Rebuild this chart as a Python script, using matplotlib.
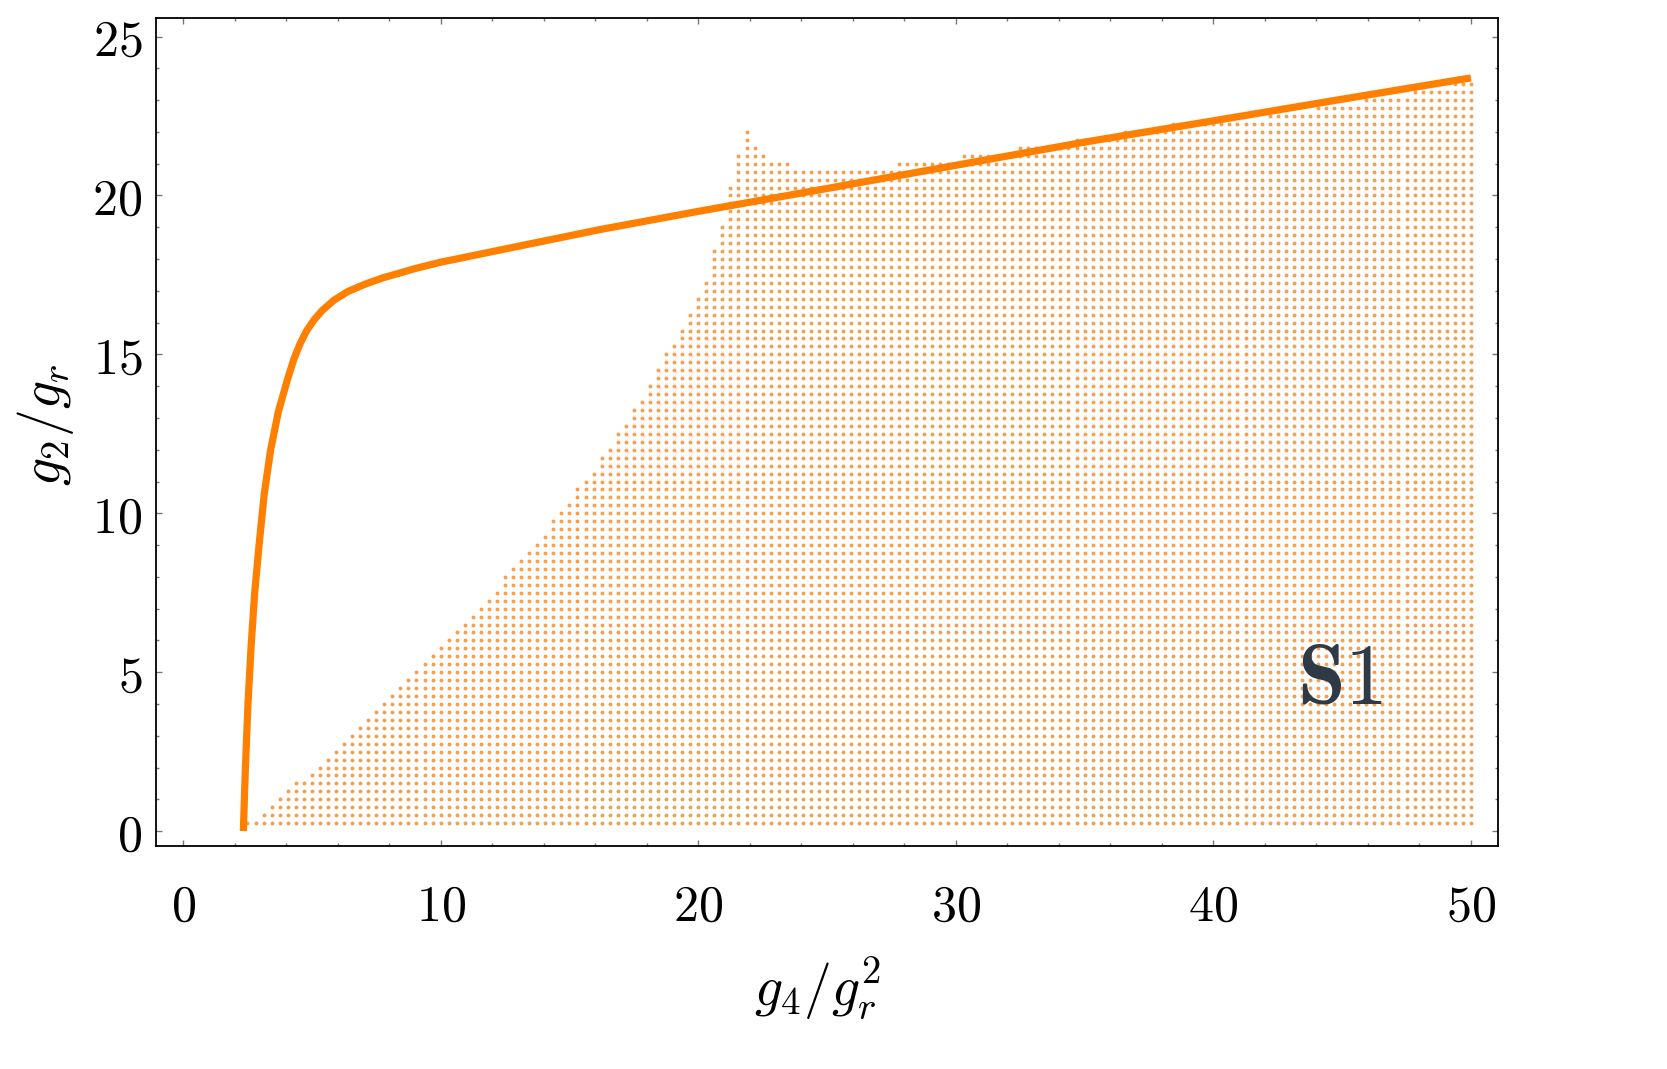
import numpy as np
import matplotlib
matplotlib.use("Agg")
from matplotlib import pyplot as plt
from matplotlib.ticker import MultipleLocator, FuncFormatter

plt.rcParams['mathtext.fontset'] = 'cm'
plt.rcParams['font.family'] = 'serif'

# boundary curve g2/gr vs g4/gr^2
curve_x = [2.34, 2.42, 2.52, 2.64, 2.78, 2.95, 3.15, 3.40, 3.70, 4.05, 4.30, 4.55, 4.80, 5.10,
           5.40, 5.85, 6.40, 7.1, 7.8, 8.5, 9.0, 10.0, 11.5, 13.0, 16.2, 20.0, 25.0,
           30.0, 35.0, 40.0, 45.0, 50.0]
curve_y = [0.0, 2.0, 4.0, 5.8, 7.5, 9.0, 10.6, 12.0, 13.2, 14.2, 14.85, 15.35, 15.75, 16.1,
           16.38, 16.7, 16.98, 17.22, 17.42, 17.58, 17.7, 17.9, 18.15, 18.4, 18.93, 19.5, 20.22,
           20.95, 21.68, 22.35, 23.03, 23.70]

# sampled region S1: sampling steps of the scan
grid_dx = 0.3125
grid_dy = 0.25

# left edge of the region: (g2/gr, leftmost g4/gr^2)
left_y = [0.25, 0.5, 1.5, 1.75, 2.0, 3.0, 4.0, 5.0, 6.0, 7.0, 7.5, 8.0, 9.0, 10.0,
          11.0, 12.0, 13.25, 14.0, 15.0, 15.75, 16.75, 17.25, 18.0, 18.75, 19.75, 21.25, 22.0]
left_x = [2.45, 3.1, 4.35, 4.95, 5.28, 6.53, 7.75, 8.99, 10.23, 11.5, 12.12, 12.47, 13.7, 14.63,
          15.56, 16.5, 17.45, 18.1, 18.71, 19.33, 19.95, 20.27, 20.57, 20.88, 21.2, 21.5, 21.8]

# top edge of the region (step function): starting x and top value
top_x = [21.4, 21.7, 22.0, 22.35, 22.65, 23.6, 27.7, 30.2, 32.4, 34.6, 36.5,
         38.4, 42.1, 44.0, 45.9, 47.7, 49.2]
top_y = [21.25, 22.0, 21.5, 21.25, 21.0, 20.75, 21.0, 21.25, 21.5, 21.75, 22.0,
         22.25, 22.5, 22.75, 23.0, 23.25, 23.5]

gx, gy = np.meshgrid(np.arange(0, 50 + 1e-9, grid_dx), np.arange(grid_dy, 25 + 1e-9, grid_dy))
gx = gx.ravel()
gy = gy.ravel()
inside = gx >= np.interp(gy, left_y, left_x) - 0.05
idx = np.searchsorted(top_x, gx, side='right') - 1
ytop = np.where(idx >= 0, np.array(top_y)[np.clip(idx, 0, None)], 99.0)
inside &= gy <= ytop + 1e-6
inside &= gy >= left_y[0] - 1e-6

fig = plt.figure(figsize=(16.67, 10.69), dpi=100)
ax = fig.add_axes([0.0936, 0.2086, 0.805, 0.775])

ax.plot(gx[inside], gy[inside], 'o', color='#f3a052', markersize=2.8, markeredgewidth=0, zorder=2)
ax.plot(curve_x, curve_y, color='#ff8000', linewidth=5.2, solid_capstyle='butt',
        solid_joinstyle='round', zorder=3)

ax.text(44.9, 4.75, r'$\mathbf{S1}$', fontsize=62, color='#2f3a47', ha='center', va='center', zorder=4)

ax.set_xlim(-1.05, 51.05)
ax.set_ylim(-0.47, 25.6)

ax.xaxis.set_major_locator(MultipleLocator(10))
ax.xaxis.set_minor_locator(MultipleLocator(2))
ax.yaxis.set_major_locator(MultipleLocator(5))
ax.yaxis.set_minor_locator(MultipleLocator(1))
fmt = FuncFormatter(lambda v, p: r'$%d$' % round(v))
ax.xaxis.set_major_formatter(fmt)
ax.yaxis.set_major_formatter(fmt)
ax.tick_params(which='both', direction='in', top=True, right=True, color='#777777', width=1.0)
ax.tick_params(which='major', length=4, labelsize=36)
ax.tick_params(which='minor', length=2.5)
ax.tick_params(axis='x', which='major', pad=26)
ax.tick_params(axis='y', which='major', pad=10)
for s in ax.spines.values():
    s.set_linewidth(1.3)

ax.set_xlabel(r'$g_4/g_r^2$', fontsize=40)
ax.set_ylabel(r'$g_2/g_r$', fontsize=40)
ax.xaxis.label.set_va('center')
ax.yaxis.label.set_va('center')
ax.xaxis.set_label_coords(0.493, -0.1725)
ax.yaxis.set_label_coords(-0.082, 0.508)

plt.savefig('out.png', format='png')
